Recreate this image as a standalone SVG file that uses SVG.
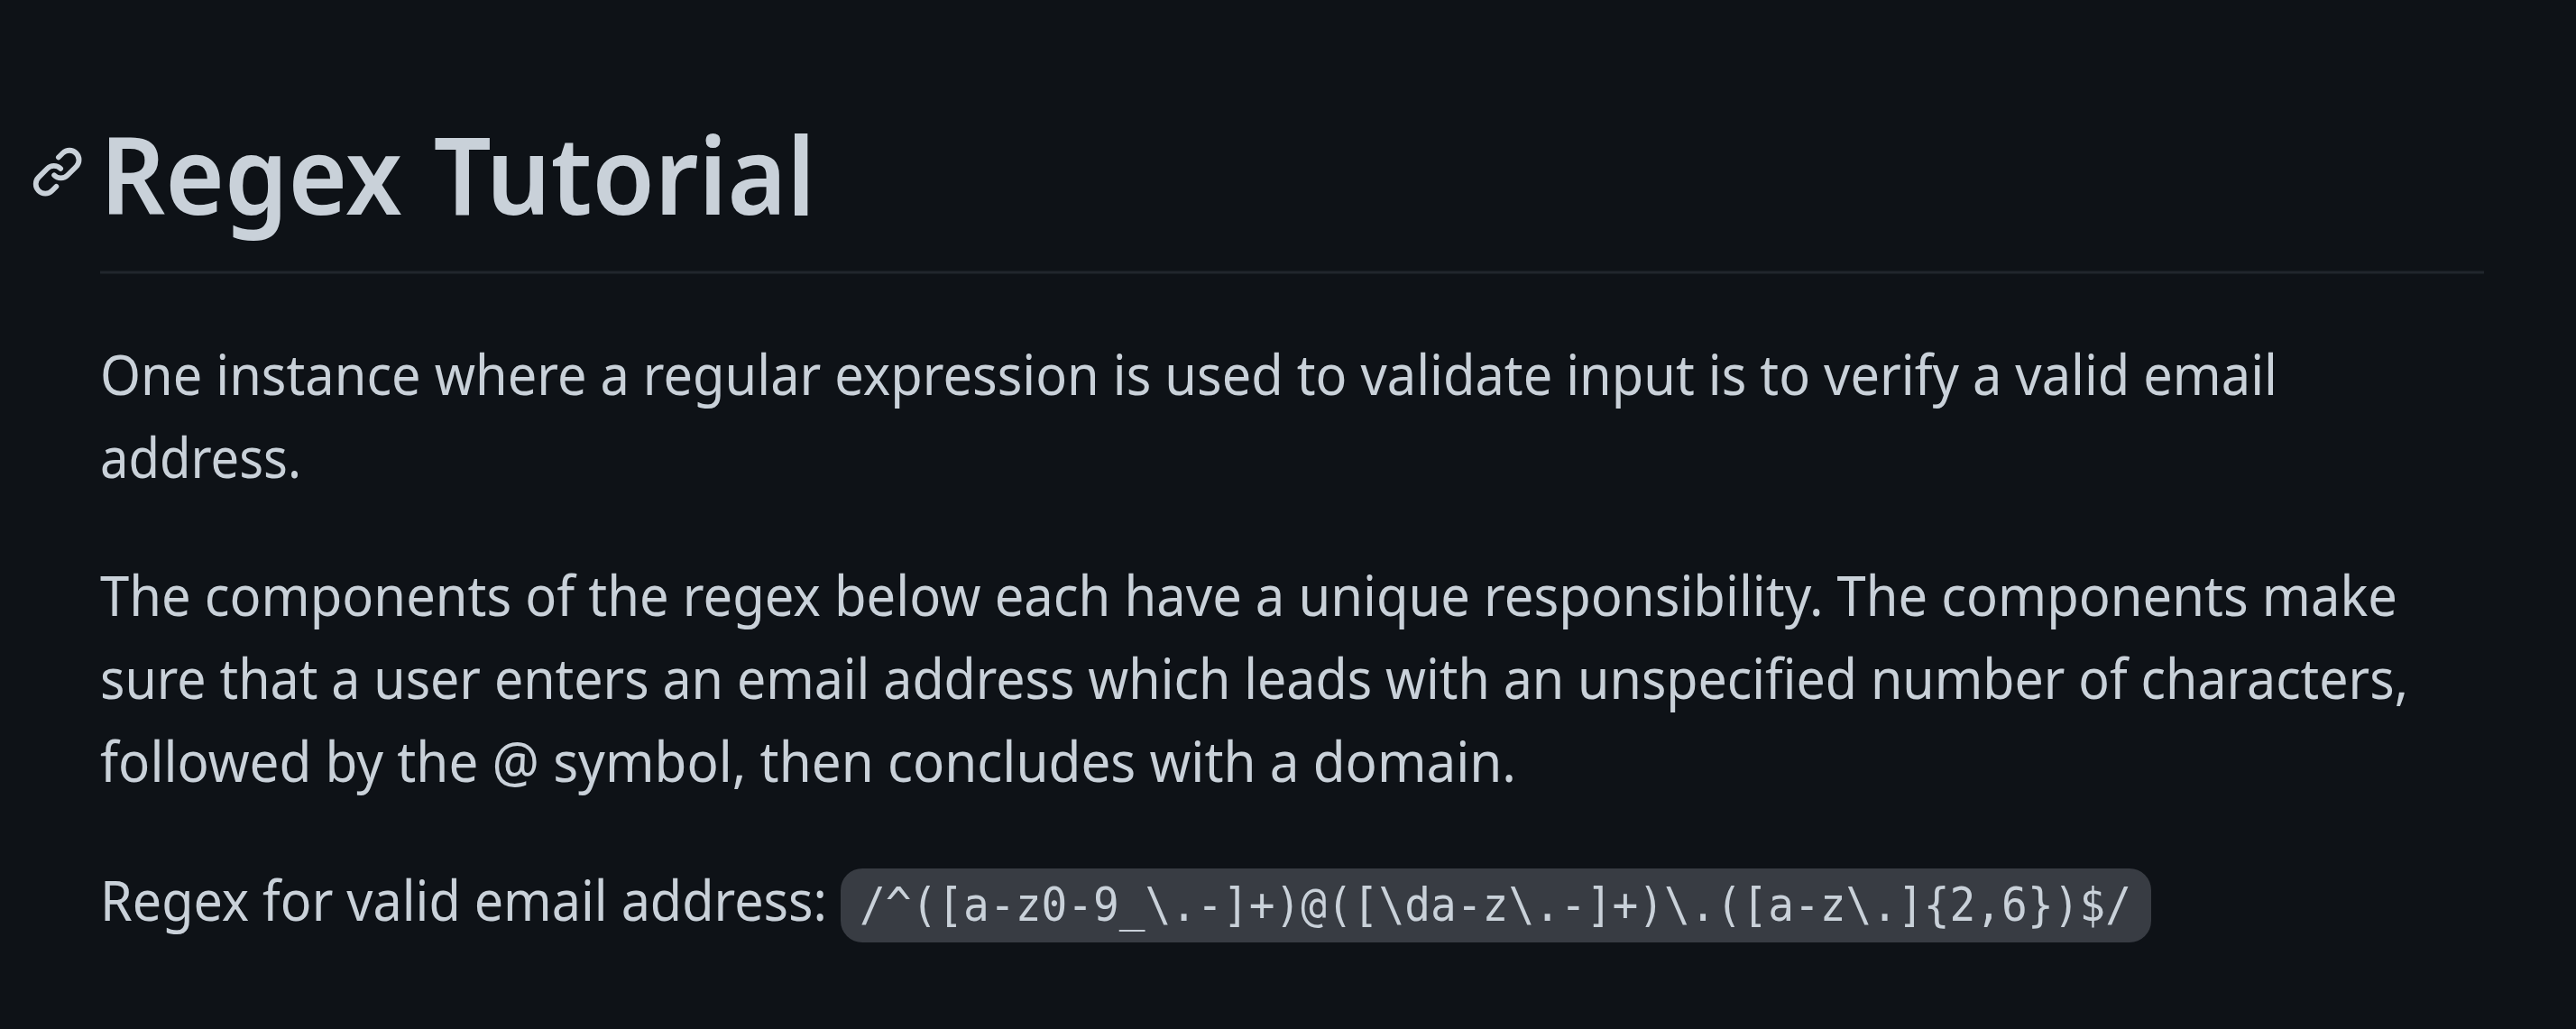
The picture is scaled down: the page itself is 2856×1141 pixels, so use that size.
<svg xmlns="http://www.w3.org/2000/svg" width="2856" height="1141" viewBox="0 0 2856 1141">
<style>
text{fill:#c9d1d9;font-family:"Noto Sans","Open Sans",sans-serif}
.b{font-size:62px}
.h{font-size:120px;font-weight:600;word-spacing:6px}
.c{font-family:"DejaVu Sans Mono",monospace;font-size:52px}
</style>
<rect width="2856" height="1141" fill="#0e1217"/>
<g id="heading">
<path transform="translate(33 160) scale(3.83)" fill="#c9d1d9" d="m7.775 3.275 1.25-1.25a3.5 3.5 0 1 1 4.95 4.95l-2.5 2.5a3.5 3.5 0 0 1-4.95 0 .751.751 0 0 1 .018-1.042.751.751 0 0 1 1.042-.018 1.998 1.998 0 0 0 2.83 0l2.5-2.5a2.002 2.002 0 0 0-2.83-2.83l-1.25 1.25a.751.751 0 0 1-1.042-.018.751.751 0 0 1-.018-1.042Zm-4.69 9.64a1.998 1.998 0 0 0 2.83 0l1.25-1.25a.751.751 0 0 1 1.042.018.751.751 0 0 1 .018 1.042l-1.25 1.25a3.5 3.5 0 1 1-4.95-4.95l2.5-2.5a3.5 3.5 0 0 1 4.95 0 .751.751 0 0 1-.018 1.042.751.751 0 0 1-1.042.018 1.998 1.998 0 0 0-2.83 0l-2.5 2.5a1.998 1.998 0 0 0 0 2.83Z"/>
<text class="h" x="111" y="238" textLength="793" lengthAdjust="spacingAndGlyphs">Regex Tutorial</text>
<rect x="111" y="300.5" width="2643" height="3" fill="#21262d"/>
</g>
<g id="para1">
<text class="b" x="111" y="438" textLength="2414" lengthAdjust="spacingAndGlyphs">One instance where a regular expression is used to validate input is to verify a valid email</text>
<text class="b" x="111" y="530" textLength="223" lengthAdjust="spacingAndGlyphs">address.</text>
</g>
<g id="para2">
<text class="b" x="111" y="683" textLength="2547" lengthAdjust="spacingAndGlyphs">The components of the regex below each have a unique responsibility. The components make</text>
<text class="b" x="111" y="775" textLength="2559" lengthAdjust="spacingAndGlyphs">sure that a user enters an email address which leads with an unspecified number of characters,</text>
<text class="b" x="111" y="867" textLength="1570" lengthAdjust="spacingAndGlyphs">followed by the @ symbol, then concludes with a domain.</text>
</g>
<g id="para3">
<text class="b" x="111" y="1021" textLength="806" lengthAdjust="spacingAndGlyphs">Regex for valid email address:</text>
<rect x="932" y="963" width="1453" height="82" rx="24" fill="#383c43"/>
<text class="c" x="953" y="1021" textLength="1410" lengthAdjust="spacingAndGlyphs">/^([a-z0-9_\.-]+)@([\da-z\.-]+)\.([a-z\.]{2,6})$/</text>
</g>
</svg>
